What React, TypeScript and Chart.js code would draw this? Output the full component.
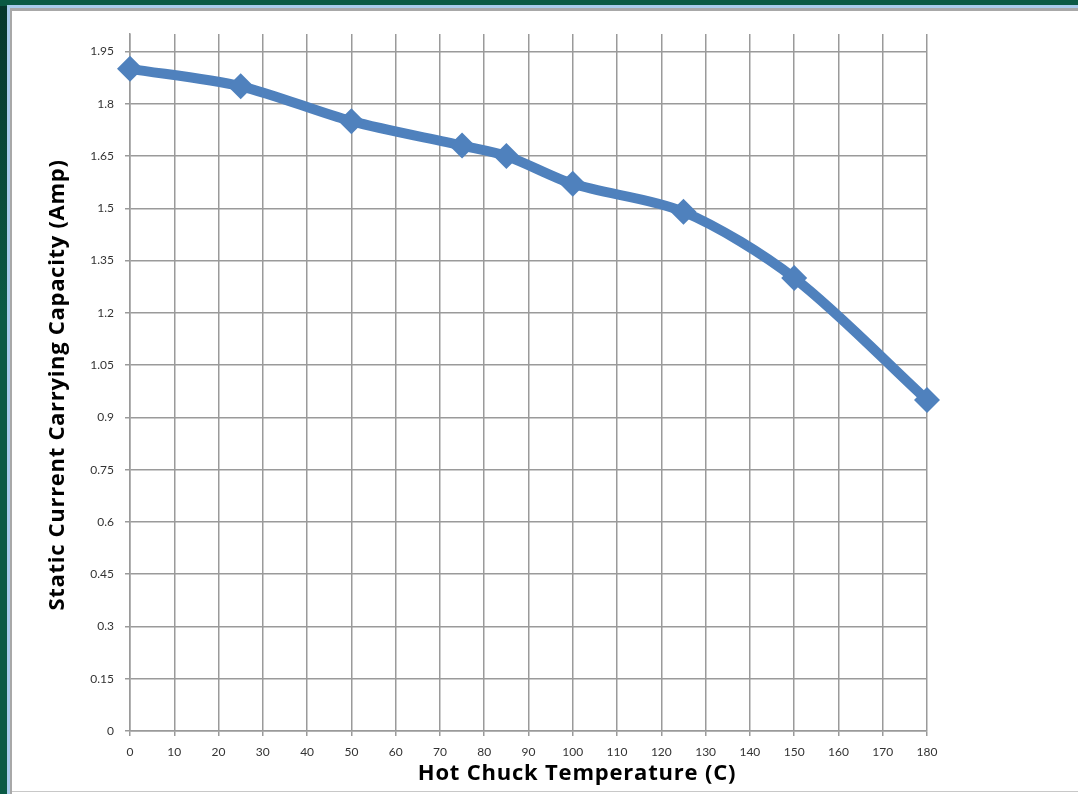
import React, { useEffect, useRef } from "react";
import { Chart, registerables } from "chart.js";

Chart.register(...registerables);

const temperatures = [0, 25, 50, 75, 85, 100, 125, 150, 180];
const capacity = [1.9, 1.85, 1.75, 1.68, 1.65, 1.57, 1.49, 1.3, 0.95];
const yTickValues = [0, 0.15, 0.3, 0.45, 0.6, 0.75, 0.9, 1.05, 1.2, 1.35, 1.5, 1.65, 1.8, 1.95];
const yTitle = "Static Current Carrying Capacity (Amp)";
const xTitle = "Hot Chuck Temperature (C)";

const FONT = "Lato, 'Open Sans', 'Noto Sans', sans-serif";
const TITLE_FONT = "'Open Sans', 'Noto Sans', sans-serif";
const GRID = "#9a9a9a";
const BLUE = "#4f81bd";

const titlesPlugin = {
  id: "titlesPlugin",
  afterDraw(chart: any) {
    const ctx = chart.ctx;
    ctx.save();
    ctx.font = `bold 22px ${TITLE_FONT}`;
    (ctx as any).letterSpacing = "0.8px";
    ctx.fillStyle = "#000";
    ctx.textAlign = "center";
    ctx.textBaseline = "middle";
    ctx.fillText(xTitle, 577, 774);
    ctx.translate(58, 385);
    ctx.rotate(-Math.PI / 2);
    (ctx as any).letterSpacing = "0.7px";
    ctx.fillText(yTitle, 0, 0);
    ctx.restore();
  },
};

export default function App() {
  const ref = useRef<HTMLCanvasElement>(null);
  useEffect(() => {
    document.body.style.margin = "0";
    const chart = new Chart(ref.current as HTMLCanvasElement, {
      type: "line",
      data: {
        datasets: [
          {
            data: temperatures.map((t, i) => ({ x: t, y: capacity[i] })),
            borderColor: BLUE,
            backgroundColor: BLUE,
            borderWidth: 10,
            tension: 0.3,
            pointStyle: "rectRot",
            pointRadius: 13,
            pointBorderWidth: 0,
            pointBackgroundColor: BLUE,
            borderCapStyle: "round",
            borderJoinStyle: "round",
            clip: false,
          },
        ],
      },
      options: {
        animation: false,
        responsive: false,
        maintainAspectRatio: false,
        layout: { padding: { left: 0, right: 151, top: 34, bottom: 0 } },
        plugins: { legend: { display: false }, tooltip: { enabled: false } },
        scales: {
          x: {
            type: "linear",
            min: 0,
            max: 180,
            afterFit(scale: any) {
              scale.height = 794 - 731;
            },
            ticks: {
              stepSize: 10,
              color: "#333",
              font: { family: FONT, size: 12 },
              padding: 9,
              maxRotation: 0,
            },
            grid: { color: GRID, lineWidth: 1.5, tickLength: 5 },
            border: { color: GRID, width: 1.5 },
          },
          y: {
            type: "linear",
            min: 0,
            max: 2,
            afterFit(scale: any) {
              scale.width = 130;
            },
            afterBuildTicks(scale: any) {
              scale.ticks = yTickValues.map((v) => ({ value: v }));
            },
            ticks: {
              color: "#333",
              font: { family: FONT, size: 12 },
              padding: 11,
              callback: (v: any) => String(Number(Number(v).toFixed(2))),
            },
            grid: { color: GRID, lineWidth: 1.5, tickLength: 5 },
            border: { color: GRID, width: 1.5 },
          },
        },
      },
      plugins: [titlesPlugin],
    } as any);
    return () => chart.destroy();
  }, []);

  return (
    <div
      style={{
        position: "fixed",
        left: 0,
        top: 0,
        width: 1078,
        height: 794,
        overflow: "hidden",
        background: "linear-gradient(180deg, #06362c 0%, #0b5a45 40%, #0b5a45 100%)",
      }}
    >
      <div style={{ position: "absolute", left: 0, top: 0, right: 0, height: 6, background: "#0b5a45" }} />
      <div style={{ position: "absolute", left: 7, top: 5, right: 0, bottom: 0, background: "#a9cbec" }} />
      <div style={{ position: "absolute", left: 10, top: 8, right: 0, bottom: 0, background: "#a8a8a8" }} />
      <div style={{ position: "absolute", left: 12, top: 11, right: 0, bottom: 0, background: "#fff" }} />
      <div style={{ position: "absolute", left: 12, top: 791, right: 0, height: 1, background: "#c8c8c8" }} />
      <canvas
        ref={ref}
        width={1078}
        height={794}
        style={{ position: "absolute", left: 0, top: 0, width: 1078, height: 794 }}
      />
    </div>
  );
}
